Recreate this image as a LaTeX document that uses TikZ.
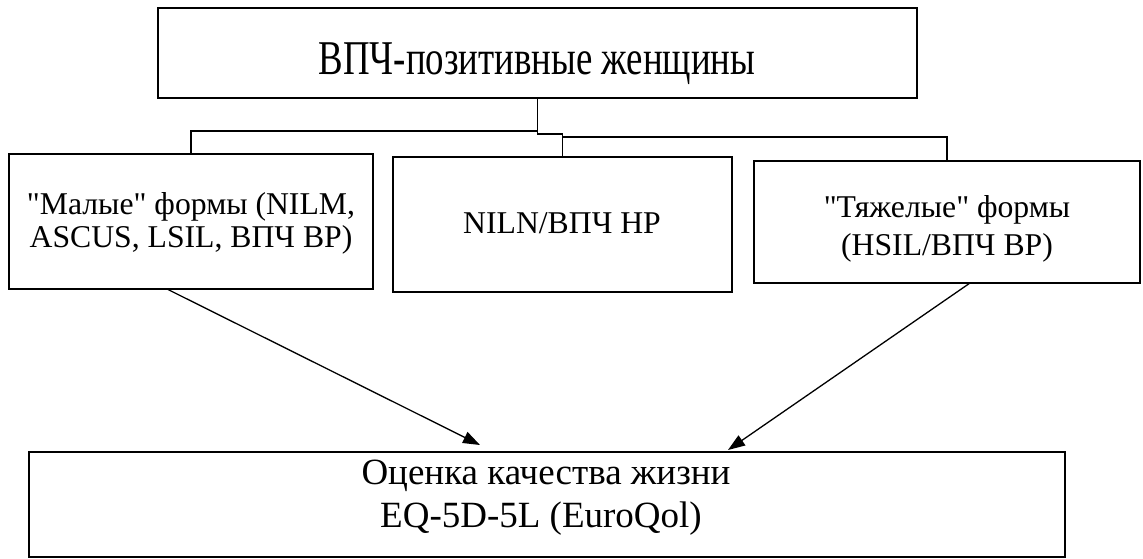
\documentclass[tikz,border=0pt]{standalone}
\usepackage{fontspec}
\usepackage{graphicx}
\setmainfont{Liberation Serif}[Ligatures=TeXOff]
\usetikzlibrary{arrows.meta}
\tikzset{
  box/.style={draw=black, line width=2pt, inner sep=0pt, outer sep=0pt, anchor=north west, fill=white},
  txt/.style={anchor=base, inner sep=0pt, font=\fontsize{31.7}{38}\selectfont},
  bigtxt/.style={anchor=base, inner sep=0pt, font=\fontsize{37}{44}\selectfont},
  conn/.style={draw=black, line width=1.1pt},
  arr/.style={draw=black, line width=1.3pt, -{Triangle[length=17pt,width=12pt]}}
}
\begin{document}
\begin{tikzpicture}[x=1pt,y=-1pt]
\useasboundingbox (0,0) rectangle (1143,558);
% boxes
\node[box, minimum width=759pt, minimum height=90pt] (top) at (158,8) {};
\node[box, minimum width=364pt, minimum height=135pt] (lbox) at (9,154) {};
\node[box, minimum width=339pt, minimum height=135pt] (mbox) at (393,157) {};
\node[box, minimum width=386pt, minimum height=122pt] (rbox) at (754,161) {};
\node[box, minimum width=1036pt, minimum height=105pt] (bot) at (29,452) {};
% texts
\node[txt] (ttop) at (537,74) {\fontsize{48.5}{58}\selectfont\scalebox{0.76}[1]{ВПЧ-позитивные женщины}};
\node[txt] (l1) at (191,214) {"Малые" формы (NILM,};
\node[txt] (l2) at (191,247) {ASCUS, LSIL, ВПЧ ВР)};
\node[txt] (m1) at (562,233) {NILN/ВПЧ НР};
\node[txt] (r1) at (947,217) {"Тяжелые" формы};
\node[txt] (r2) at (947,255) {(HSIL/ВПЧ ВР)};
\node[bigtxt] (b1) at (546,484) {Оценка качества жизни};
\node[bigtxt] (b2) at (541,527) {EQ-5D-5L (EuroQol)};
% connectors
\coordinate (jl) at (537,131);
\coordinate (jr) at (563,137);
\draw[conn] (top.south) -- ++(0,36) -| (mbox.north);
\draw[conn] (jl) -| (lbox.north);
\draw[conn] (jr) -| (rbox.north);
% arrows
\draw[arr] ([xshift=-24pt]lbox.south) -- ([xshift=-67pt,yshift=7pt]bot.north);
\draw[arr] ([xshift=23pt]rbox.south) -- ([xshift=181pt,yshift=2pt]bot.north);
\end{tikzpicture}
\end{document}
